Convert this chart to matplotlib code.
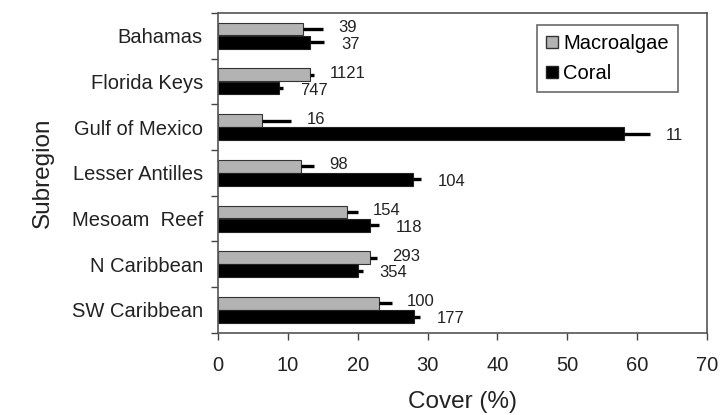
import numpy as np
import matplotlib
matplotlib.use('Agg')
import matplotlib.pyplot as plt
from matplotlib.patches import Patch

plt.rcParams['font.family'] = ['Liberation Sans', 'DejaVu Sans']

# data
regions = ['Bahamas', 'Florida Keys', 'Gulf of Mexico', 'Lesser Antilles',
           'Mesoam  Reef', 'N Caribbean', 'SW Caribbean']
macro_mean = [12.2, 13.2, 6.3, 11.9, 18.5, 21.7, 23.0]
macro_err = [2.9, 0.6, 4.2, 1.9, 1.5, 1.0, 1.9]
coral_mean = [13.2, 8.8, 58.2, 27.9, 21.7, 20.0, 28.0]
coral_err = [2.0, 0.5, 3.6, 1.2, 1.3, 0.7, 0.9]
macro_n = ['39', '1121', '16', '98', '154', '293', '100']
coral_n = ['37', '747', '11', '104', '118', '354', '177']

fig = plt.figure(figsize=(7.22, 4.15), dpi=100)
ax = fig.add_axes([0.302, 0.198, 0.677, 0.771])

y = np.arange(len(regions))
h = 0.28
off = 0.145
zeros = np.zeros(len(regions))

ax.barh(y - off, macro_mean, height=h, color='#b3b3b3', edgecolor='#333333', linewidth=0.8,
        label='Macroalgae')
ax.barh(y + off, coral_mean, height=h, color='black', edgecolor='#222222', linewidth=0.8,
        label='Coral')
ax.errorbar(macro_mean, y - off, xerr=[zeros, macro_err], fmt='none', ecolor='black',
            elinewidth=2.4, capsize=0)
ax.errorbar(coral_mean, y + off, xerr=[zeros, coral_err], fmt='none', ecolor='black',
            elinewidth=2.4, capsize=0)

for i in range(len(regions)):
    ax.annotate(macro_n[i], (macro_mean[i] + macro_err[i], y[i] - off),
                xytext=(11, 1), textcoords='offset points', va='center', ha='left',
                fontsize=12, color='#222222')
    ax.annotate(coral_n[i], (coral_mean[i] + coral_err[i], y[i] + off),
                xytext=(12, -1.5), textcoords='offset points', va='center', ha='left',
                fontsize=12, color='#222222')

ax.set_xlim(0, 70)
ax.set_ylim(len(regions) - 0.5, -0.5)
ax.set_xticks(np.arange(0, 71, 10))
ax.set_yticks(y)
ax.set_yticklabels(regions)
ax.set_yticks(np.arange(-0.5, len(regions)), minor=True)
ax.tick_params(axis='y', which='major', length=0, pad=11, labelsize=14.5, labelcolor='#222222')
ax.tick_params(axis='y', which='minor', length=5, width=1, color='#444444')
ax.tick_params(axis='x', length=5, width=1, color='#444444', labelsize=14.5,
               labelcolor='#222222', pad=12)

for s in ax.spines.values():
    s.set_color('#555555')
    s.set_linewidth(1.2)

ax.set_xlabel('Cover (%)', fontsize=17.5, color='#222222', labelpad=11)
ax.set_ylabel('Subregion', fontsize=17.5, color='#222222', labelpad=13)

handles = [Patch(facecolor='#b3b3b3', edgecolor='#333333', label='Macroalgae'),
           Patch(facecolor='black', edgecolor='#222222', label='Coral')]
leg = ax.legend(handles=handles, loc='upper right', bbox_to_anchor=(0.941, 0.962),
                borderaxespad=0, fontsize=14.5, frameon=True, fancybox=False,
                handlelength=0.6, handleheight=0.6, handletextpad=0.25, borderpad=0.45,
                labelspacing=0.55)
leg.get_frame().set_edgecolor('#444444')
leg.get_frame().set_linewidth(1.2)

fig.savefig('out.png', dpi=100)
